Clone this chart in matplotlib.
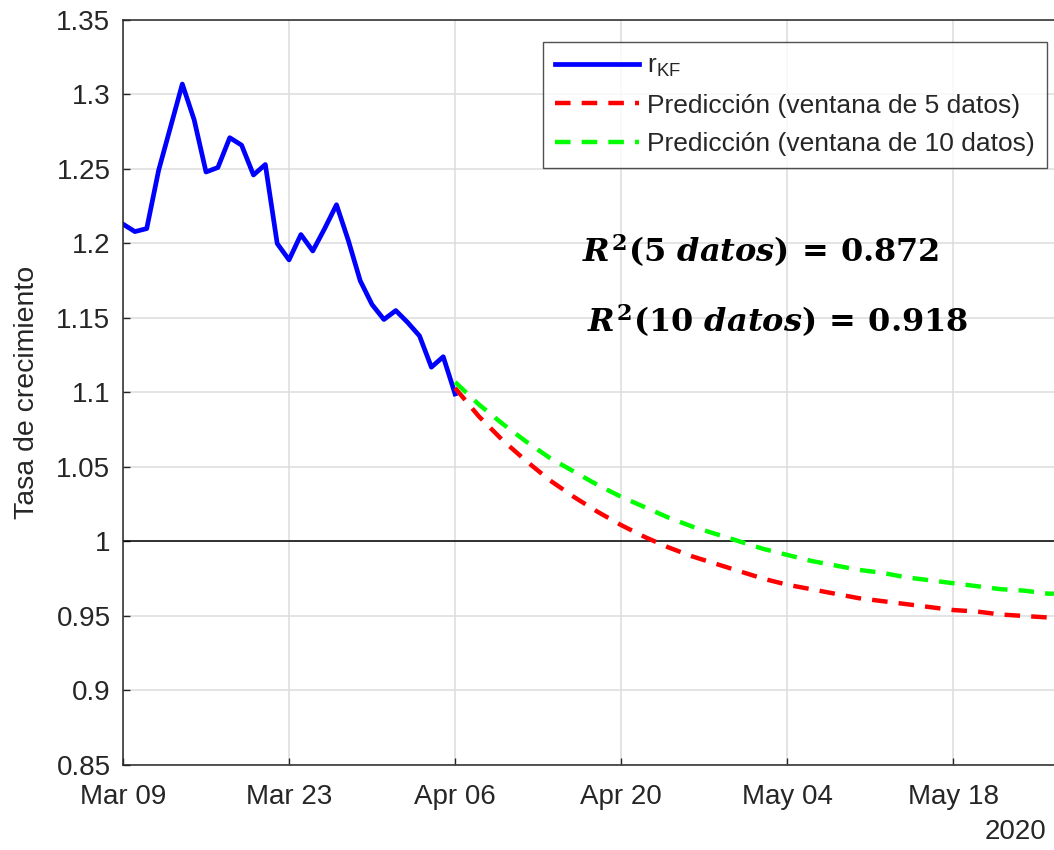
import datetime as dt
import matplotlib
matplotlib.use("Agg")
import matplotlib.pyplot as plt
import matplotlib.dates as mdates

plt.rcParams['font.family'] = ['Liberation Sans', 'DejaVu Sans']
plt.rcParams['mathtext.fontset'] = 'custom'
plt.rcParams['mathtext.rm'] = 'DejaVu Serif:bold'
plt.rcParams['mathtext.it'] = 'DejaVu Serif:italic:bold'
plt.rcParams['mathtext.bf'] = 'DejaVu Serif:bold'
plt.rcParams['mathtext.sf'] = 'Liberation Sans'

# serie filtrada (Kalman), un valor por dia desde el 9 de marzo
start = dt.datetime(2020, 3, 9)
r_kf = [1.213, 1.208, 1.210, 1.249, 1.278, 1.307, 1.283, 1.248, 1.251, 1.271,
        1.266, 1.246, 1.253, 1.200, 1.189, 1.206, 1.195, 1.210, 1.226, 1.202,
        1.175, 1.159, 1.149, 1.155, 1.147, 1.138, 1.117, 1.124, 1.099]

# predicciones (dias desde el 9 de marzo)
pred_days = [28, 30, 32, 34, 36, 38, 40, 42, 44, 46, 48, 50, 52, 54,
             56, 58, 60, 62, 64, 66, 68, 70, 72, 74, 76, 78, 79]
pred_5 = [1.103, 1.084, 1.068, 1.054, 1.041, 1.030, 1.020, 1.011, 1.003, 0.996,
          0.990, 0.985, 0.980, 0.975, 0.971, 0.968, 0.965, 0.962, 0.960, 0.958,
          0.956, 0.954, 0.953, 0.951, 0.950, 0.949, 0.949]
pred_10 = [1.107, 1.092, 1.079, 1.067, 1.056, 1.047, 1.038, 1.030, 1.023, 1.016,
           1.010, 1.005, 1.000, 0.995, 0.991, 0.987, 0.984, 0.981, 0.979, 0.976,
           0.974, 0.972, 0.970, 0.968, 0.967, 0.965, 0.965]

r2_labels = [r'$R^2(5\ datos)\,=\,0.872$', r'$R^2(10\ datos)\,=\,0.918$']

kf_dates = [start + dt.timedelta(days=i) for i in range(len(r_kf))]
pred_dates = [start + dt.timedelta(days=d) for d in pred_days]

fig = plt.figure(figsize=(10.54, 8.5), dpi=100)
ax = fig.add_axes([123 / 1054, 85 / 850, 937 / 1054, 745 / 850])

ax.plot(kf_dates, r_kf, color=(0, 0, 1), lw=3.4, label=r'r$_{\mathsf{KF}}$',
        solid_joinstyle='round')
ax.plot(pred_dates, pred_5, color=(1, 0, 0), lw=3.2, dashes=(3.5, 2.5),
        label='Predicción (ventana de 5 datos)')
ax.plot(pred_dates, pred_10, color=(0, 1, 0), lw=3.2, dashes=(3.5, 2.5),
        label='Predicción (ventana de 10 datos)')
ax.axhline(1.0, color='black', lw=1.1, zorder=1)

ax.set_xlim(start, start + dt.timedelta(days=79))
ax.set_ylim(0.85, 1.35)
ax.set_yticks([0.85, 0.9, 0.95, 1.0, 1.05, 1.1, 1.15, 1.2, 1.25, 1.3, 1.35])
ax.set_yticklabels(['0.85', '0.9', '0.95', '1', '1.05', '1.1', '1.15', '1.2',
                    '1.25', '1.3', '1.35'])
ax.set_xticks([start + dt.timedelta(days=14 * k) for k in range(6)])
ax.xaxis.set_major_formatter(mdates.DateFormatter('%b %d'))

ax.grid(True, color='#dcdcdc', lw=1.1)
ax.set_axisbelow(True)
for s in ax.spines.values():
    s.set_color('#262626')
    s.set_linewidth(1.1)
ax.tick_params(direction='in', length=5, width=1.0, colors='#262626',
               labelsize=20, labelcolor='#262626')
ax.tick_params(axis='x', pad=14)
ax.tick_params(axis='y', pad=9)
ax.set_ylabel('Tasa de crecimiento', fontsize=20.5, color='#262626', labelpad=12)

leg = ax.legend(loc='upper right', bbox_to_anchor=(0.986, 0.9705),
                borderaxespad=0, fontsize=19, frameon=True, fancybox=False,
                handlelength=3.2, handletextpad=0.3, borderpad=0.45,
                labelspacing=0.55)
leg.get_frame().set_edgecolor('#262626')
leg.get_frame().set_linewidth(1.0)
for t in leg.get_texts():
    t.set_color('#262626')

ax.text(0.49, 0.691, r2_labels[0], transform=ax.transAxes, fontsize=23,
        va='center', ha='left')
ax.text(0.495, 0.597, r2_labels[1], transform=ax.transAxes, fontsize=23,
        va='center', ha='left')

fig.text(1046 / 1054, 1 - 832 / 850, '2020', fontsize=20, color='#262626',
         ha='right', va='center')

fig.savefig('out.png', dpi=100)
